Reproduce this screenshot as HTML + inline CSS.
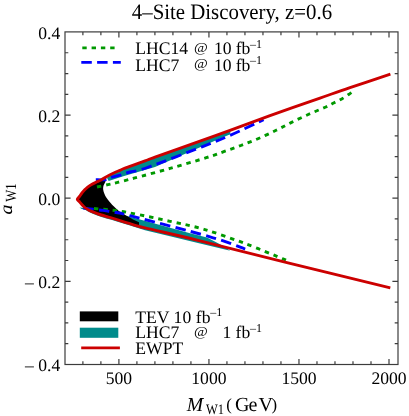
<!DOCTYPE html>
<html><head><meta charset="utf-8"><title>4-Site Discovery</title>
<style>
html,body{margin:0;padding:0;background:#fff;}
body{width:409px;height:416px;overflow:hidden;font-family:"Liberation Serif",serif;}
svg{display:block;will-change:transform;}
text{font-family:"Liberation Serif",serif;fill:#000;text-rendering:geometricPrecision;}
.t{font-size:17.6px;}
.s{font-size:12.0px;}
.i{font-style:italic;}
</style></head><body>
<svg width="409" height="416" viewBox="0 0 409 416">
<rect width="409" height="416" fill="#fff"/>
<g id="regions">
<path fill="#008b8b" d="M107.00,178.00 L114.40,171.90 L125.00,167.90 L145.00,160.90 L155.00,157.20 L200.00,141.20 L230.30,130.30 L230.30,134.20 L212.00,141.90 L195.00,149.50 L155.00,167.00 L123.30,176.20 L108.70,180.90 Z"/>
<path fill="#008b8b" d="M79.50,207.60 L81.80,208.90 L84.70,209.40 L87.70,211.30 L91.60,213.30 L96.50,215.20 L101.40,216.90 L106.30,218.40 L112.10,220.10 L120.00,222.60 L130.00,225.60 L145.00,230.30 L170.00,236.20 L200.00,243.50 L230.30,250.80 L230.30,250.80 L220.00,244.20 L207.00,237.60 L190.00,233.20 L130.00,216.70 L100.00,210.00 Z"/>
<path fill="#000" d="M77.30,199.30 C77.72,198.78 79.05,197.22 79.80,196.20 C80.55,195.18 80.98,194.27 81.80,193.20 C82.62,192.13 83.72,190.82 84.70,189.80 C85.68,188.78 86.55,188.00 87.70,187.10 C88.85,186.20 90.13,185.25 91.60,184.40 C93.07,183.55 95.03,182.68 96.50,182.00 C97.97,181.32 98.73,181.20 100.40,180.30 C102.07,179.40 105.48,177.22 106.50,176.60 L106.50,176.60 C106.30,177.50 105.82,180.45 105.30,182.00 C104.78,183.55 103.75,184.60 103.40,185.90 C103.05,187.20 103.03,188.50 103.20,189.80 C103.37,191.10 103.88,192.40 104.40,193.70 C104.92,195.00 105.48,196.28 106.30,197.60 C107.12,198.92 108.33,200.40 109.30,201.60 C110.27,202.80 110.98,203.65 112.10,204.80 C113.22,205.95 114.68,207.33 116.00,208.50 C117.32,209.67 118.17,210.55 120.00,211.80 C121.83,213.05 124.83,214.72 127.00,216.00 C129.17,217.28 131.00,218.45 133.00,219.50 C135.00,220.55 138.00,221.83 139.00,222.30 L139.00,226.20 C137.50,225.78 133.17,224.62 130.00,223.70 C126.83,222.78 122.98,221.62 120.00,220.70 C117.02,219.78 114.38,218.90 112.10,218.20 C109.82,217.50 108.08,217.03 106.30,216.50 C104.52,215.97 103.03,215.53 101.40,215.00 C99.77,214.47 98.13,213.90 96.50,213.30 C94.87,212.70 93.07,212.05 91.60,211.40 C90.13,210.75 88.85,210.05 87.70,209.40 C86.55,208.75 85.68,208.32 84.70,207.50 C83.72,206.68 82.62,205.40 81.80,204.50 C80.98,203.60 80.55,202.97 79.80,202.10 C79.05,201.23 77.72,199.77 77.30,199.30 Z"/>
</g>
<g fill="none" stroke-linejoin="round" stroke-width="2.9">
<path stroke="#009900" stroke-dasharray="4.4 4.84" d="M97.00,187.00 C98.83,186.60 104.70,185.33 108.00,184.60 C111.30,183.87 112.47,183.67 116.80,182.60 C121.13,181.53 125.13,180.57 134.00,178.20 C142.87,175.83 157.95,171.82 170.00,168.40 C182.05,164.98 197.35,160.48 206.30,157.70 C215.25,154.92 217.93,153.73 223.70,151.70 C229.47,149.67 235.10,147.70 240.90,145.50 C246.70,143.30 252.63,141.03 258.50,138.50 C264.37,135.97 270.67,132.95 276.10,130.30 C281.53,127.65 285.67,125.27 291.10,122.60 C296.53,119.93 302.92,116.90 308.70,114.30 C314.48,111.70 321.57,108.92 325.80,107.00 C330.03,105.08 331.30,104.23 334.10,102.80 C336.90,101.37 339.90,99.97 342.60,98.40 C345.30,96.83 348.65,94.48 350.30,93.40 C351.95,92.32 352.13,92.15 352.50,91.90"/>
<path stroke="#009900" stroke-dasharray="4.4 4.9" d="M94.00,208.50 C97.20,208.80 106.87,209.50 113.20,210.30 C119.53,211.10 122.53,211.47 132.00,213.30 C141.47,215.13 158.00,218.63 170.00,221.30 C182.00,223.97 191.50,225.60 204.00,229.30 C216.50,233.00 231.83,238.57 245.00,243.50 C258.17,248.43 276.42,256.18 283.00,258.90 C289.58,261.62 284.25,259.65 284.50,259.80"/>
<path stroke="#0000ff" stroke-dasharray="10.5 5.3" d="M95.80,179.70 C97.33,179.70 102.47,180.07 105.00,179.70 C107.53,179.33 108.28,178.32 111.00,177.50 C113.72,176.68 118.13,175.72 121.30,174.80 C124.47,173.88 125.88,173.13 130.00,172.00 C134.12,170.87 134.00,172.20 146.00,168.00 C158.00,163.80 188.00,152.23 202.00,146.80 C216.00,141.37 219.73,139.92 230.00,135.40 C240.27,130.88 258.00,122.32 263.60,119.70"/>
<path stroke="#0000ff" stroke-dasharray="10.5 5.3" d="M83.30,208.00 C84.92,208.22 89.72,208.90 93.00,209.30 C96.28,209.70 100.37,210.05 103.00,210.40 C105.63,210.75 105.97,210.93 108.80,211.40 C111.63,211.87 116.47,212.48 120.00,213.20 C123.53,213.92 115.00,211.77 130.00,215.70 C145.00,219.63 190.80,231.23 210.00,236.80 C229.20,242.37 239.33,247.05 245.20,249.10"/>
<path stroke="#cc0000" d="M390.40,74.10 C383.67,76.35 361.73,83.60 350.00,87.60 C338.27,91.60 333.33,93.42 320.00,98.10 C306.67,102.78 285.00,110.32 270.00,115.70 C255.00,121.08 241.67,126.15 230.00,130.40 C218.33,134.65 212.50,136.73 200.00,141.20 C187.50,145.67 164.17,153.92 155.00,157.20 C145.83,160.48 150.00,159.07 145.00,160.90 C140.00,162.73 129.17,166.63 125.00,168.20 C120.83,169.77 121.97,169.47 120.00,170.30 C118.03,171.13 115.53,172.10 113.20,173.20 C110.87,174.30 108.13,175.72 106.00,176.90 C103.87,178.08 101.98,179.45 100.40,180.30 C98.82,181.15 97.97,181.32 96.50,182.00 C95.03,182.68 93.07,183.55 91.60,184.40 C90.13,185.25 88.85,186.20 87.70,187.10 C86.55,188.00 85.68,188.78 84.70,189.80 C83.72,190.82 82.62,192.13 81.80,193.20 C80.98,194.27 80.55,195.18 79.80,196.20 C79.05,197.22 77.30,198.32 77.30,199.30 C77.30,200.28 79.05,201.23 79.80,202.10 C80.55,202.97 80.98,203.60 81.80,204.50 C82.62,205.40 83.72,206.68 84.70,207.50 C85.68,208.32 86.55,208.75 87.70,209.40 C88.85,210.05 90.13,210.75 91.60,211.40 C93.07,212.05 94.87,212.70 96.50,213.30 C98.13,213.90 99.77,214.47 101.40,215.00 C103.03,215.53 104.52,215.97 106.30,216.50 C108.08,217.03 109.82,217.50 112.10,218.20 C114.38,218.90 117.02,219.78 120.00,220.70 C122.98,221.62 125.83,222.50 130.00,223.70 C134.17,224.90 133.33,225.05 145.00,227.90 C156.67,230.75 175.83,234.88 200.00,240.80 C224.17,246.72 258.28,255.55 290.00,263.40 C321.72,271.25 373.58,283.82 390.30,287.90"/>
</g>
<g stroke="#3c3c3c" fill="none">
<rect x="65.0" y="31.9" width="333.0" height="332.6" stroke-width="1.2"/>
<path stroke-width="1.2" d="M82.89,364.5 v-3.3 M82.89,31.9 v3.3 M100.89,364.5 v-3.3 M100.89,31.9 v3.3 M118.90,364.5 v-5.6 M118.90,31.9 v5.6 M136.91,364.5 v-3.3 M136.91,31.9 v3.3 M154.91,364.5 v-3.3 M154.91,31.9 v3.3 M172.92,364.5 v-3.3 M172.92,31.9 v3.3 M190.93,364.5 v-3.3 M190.93,31.9 v3.3 M208.94,364.5 v-5.6 M208.94,31.9 v5.6 M226.94,364.5 v-3.3 M226.94,31.9 v3.3 M244.95,364.5 v-3.3 M244.95,31.9 v3.3 M262.96,364.5 v-3.3 M262.96,31.9 v3.3 M280.96,364.5 v-3.3 M280.96,31.9 v3.3 M298.97,364.5 v-5.6 M298.97,31.9 v5.6 M316.98,364.5 v-3.3 M316.98,31.9 v3.3 M334.98,364.5 v-3.3 M334.98,31.9 v3.3 M352.99,364.5 v-3.3 M352.99,31.9 v3.3 M371.00,364.5 v-3.3 M371.00,31.9 v3.3 M389.00,364.5 v-5.6 M389.00,31.9 v5.6 M65.0,343.62 h3.3 M398.0,343.62 h-3.3 M65.0,322.85 h3.3 M398.0,322.85 h-3.3 M65.0,302.07 h3.3 M398.0,302.07 h-3.3 M65.0,281.30 h5.6 M398.0,281.30 h-5.6 M65.0,260.52 h3.3 M398.0,260.52 h-3.3 M65.0,239.75 h3.3 M398.0,239.75 h-3.3 M65.0,218.97 h3.3 M398.0,218.97 h-3.3 M65.0,198.20 h5.6 M398.0,198.20 h-5.6 M65.0,177.42 h3.3 M398.0,177.42 h-3.3 M65.0,156.65 h3.3 M398.0,156.65 h-3.3 M65.0,135.87 h3.3 M398.0,135.87 h-3.3 M65.0,115.10 h5.6 M398.0,115.10 h-5.6 M65.0,94.32 h3.3 M398.0,94.32 h-3.3 M65.0,73.55 h3.3 M398.0,73.55 h-3.3 M65.0,52.77 h3.3 M398.0,52.77 h-3.3"/>
</g>
<g fill="none" stroke-width="2.9">
<path stroke="#009900" stroke-dasharray="4.4 4.9" d="M82.3,47.9 L119.3,47.9"/>
<path stroke="#0000ff" stroke-dasharray="10.5 5.3" d="M81.3,62.4 L120.8,62.4"/>
<path stroke="#cc0000" d="M81.2,347.85 L119.9,347.85"/>
</g>
<rect x="79.8" y="311.4" width="38.5" height="9.9" fill="#000"/>
<rect x="79.8" y="327.7" width="38.5" height="10.1" fill="#008b8b"/>
<g id="labels">
<text transform="translate(131.8,18.7) scale(1,1.055)" font-size="20.85">4–Site Discovery, z=0.6</text>
<text x="118.9" y="383.6" class="t" text-anchor="middle" >500</text>
<text x="208.9" y="383.6" class="t" text-anchor="middle" >1000</text>
<text x="299.0" y="383.6" class="t" text-anchor="middle" >1500</text>
<text x="389.0" y="383.6" class="t" text-anchor="middle" >2000</text>
<text x="60.2" y="38.5" class="t" text-anchor="end" >0.4</text>
<text x="60.2" y="121.6" class="t" text-anchor="end" >0.2</text>
<text x="60.2" y="204.7" class="t" text-anchor="end" >0.0</text>
<text x="60.2" y="287.8" class="t" text-anchor="end" >– 0.2</text>
<text x="60.2" y="370.9" class="t" text-anchor="end" >– 0.4</text>
<text x="135.3" y="54.2" class="t" text-anchor="start" >LHC14</text>
<text transform="translate(194.0,51.9) scale(1.1,1)" font-size="13.6">@</text>
<text x="214.0" y="54.2" class="t" text-anchor="start" >10</text>
<text x="235.7" y="54.2" class="t" text-anchor="start" >fb</text>
<text x="250.0" y="47.9" class="s" text-anchor="start" >–1</text>
<text x="135.3" y="70.7" class="t" text-anchor="start" >LHC7</text>
<text transform="translate(194.0,68.4) scale(1.1,1)" font-size="13.6">@</text>
<text x="214.0" y="70.7" class="t" text-anchor="start" >10</text>
<text x="235.7" y="70.7" class="t" text-anchor="start" >fb</text>
<text x="250.0" y="64.4" class="s" text-anchor="start" >–1</text>
<text x="135.3" y="322.5" class="t" text-anchor="start" >TEV</text>
<text x="173.6" y="322.5" class="t" text-anchor="start" >10</text>
<text x="195.8" y="322.5" class="t" text-anchor="start" >fb</text>
<text x="210.3" y="316.2" class="s" text-anchor="start" >–1</text>
<text x="135.3" y="338.1" class="t" text-anchor="start" >LHC7</text>
<text transform="translate(194.0,335.8) scale(1.1,1)" font-size="13.6">@</text>
<text x="222.6" y="338.1" class="t" text-anchor="start" >1</text>
<text x="235.6" y="338.1" class="t" text-anchor="start" >fb</text>
<text x="250.0" y="331.8" class="s" text-anchor="start" >–1</text>
<text x="135.3" y="353.8" class="t" text-anchor="start" >EWPT</text>
<text x="186.8" y="411.0" class="i" text-anchor="start" font-size="19.7">M</text>
<text transform="translate(206.0,414.1) scale(1,1.15)" font-size="12.5">W1</text>
<text x="226.2" y="409.8" class="" text-anchor="start" font-size="16.8">(</text>
<text x="235.0" y="411.1" class="" text-anchor="start" font-size="20">G</text>
<text x="248.4" y="411.1" class="" text-anchor="start" font-size="20">e</text>
<text x="258.6" y="411.1" class="" text-anchor="start" font-size="20">V</text>
<text x="271.6" y="409.8" class="" text-anchor="start" font-size="16.8">)</text>
<text transform="translate(11.5,214.4) rotate(-90) scale(1,0.9)" font-size="19.9" class="i">a</text>
<text transform="translate(15.8,201.8) rotate(-90) scale(1,1.22)" font-size="12.7">W1</text>
</g>
</svg>
</body></html>
